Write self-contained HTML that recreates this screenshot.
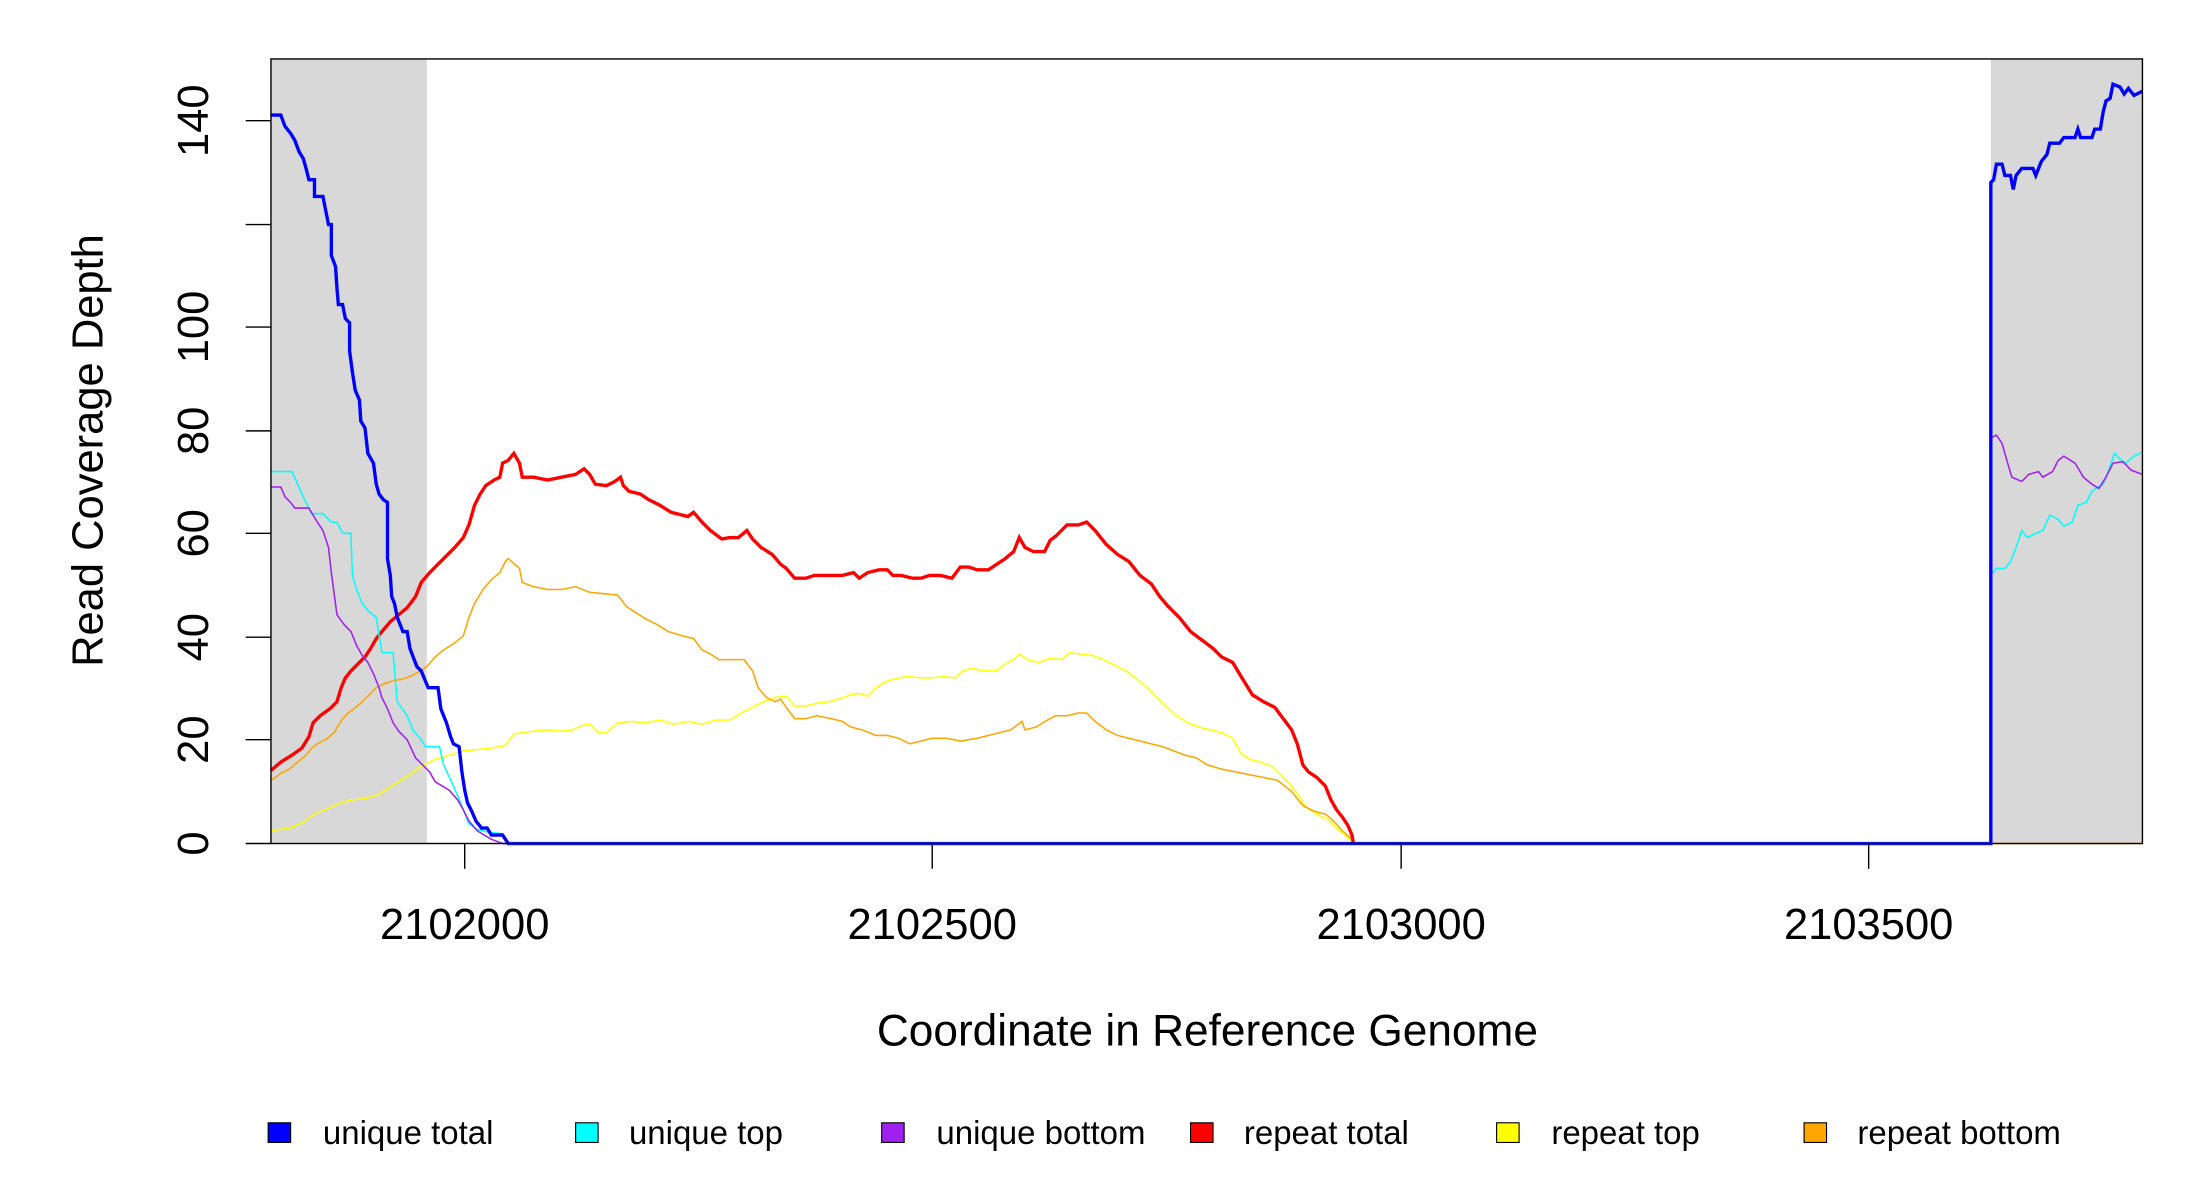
<!DOCTYPE html>
<html><head><meta charset="utf-8"><style>html,body{margin:0;padding:0;background:#fff}svg{display:block}</style></head>
<body>
<svg width="2200" height="1200" viewBox="0 0 1567 855" preserveAspectRatio="none" xmlns="http://www.w3.org/2000/svg" font-family="Liberation Sans, sans-serif">
<rect x="0" y="0" width="1567" height="855" fill="#fff"/>
<rect x="193" y="42" width="111" height="559" fill="#d8d8d8"/>
<rect x="1418" y="42" width="108" height="559" fill="#d8d8d8"/>
<g fill="none" stroke-linejoin="miter">
<polyline stroke="#ffff00" stroke-width="1.1" points="193,592 206,590 216,586 224,580 232,577 240,573 250,570 260,569 270,566 276,562 284,557 292,552 300,546 310,541 320,538 330,535 340,534 350,533 360,531 366,523 372,522 380,521 390,520 400,521 408,520 414,517 420,516 426,522 432,522 440,515 450,514 460,515 470,513 480,516 490,514 500,516 510,513 520,513 528,508 536,504 544,500 552,497 560,496 566,503 574,503 582,501 590,500 598,498 606,495 612,494 618,496 624,490 630,486 636,484 646,482 656,483 664,483 672,482 680,483 686,478 692,476 700,478 710,478 716,473 722,470 726,466 732,470 740,472 748,469 756,470 762,465 770,466 778,467 786,470 794,474 802,478 810,484 816,489 822,495 830,503 838,510 846,515 854,518 862,520 870,522 878,526 884,537 890,541 898,543 906,546 912,552 918,558 924,565 930,575 938,580 946,584 952,590 958,595 964,601"/>
<polyline stroke="#ffa500" stroke-width="1.1" points="193,556 200,551 206,548 212,543 218,538 222,533 226,530 232,527 238,522 244,512 248,508 252,505 258,500 262,496 268,490 274,487 280,485 286,484 292,482 298,479 304,475 310,468 316,463 324,458 330,453 334,440 338,430 344,420 350,413 356,408 360,400 362,398 370,405 372,415 380,418 390,420 400,420 410,418 420,422 430,423 440,424 446,432 452,436 460,441 468,445 476,450 486,453 494,455 500,463 506,466 512,470 520,470 530,470 536,478 540,490 546,497 552,500 556,498 560,504 566,512 574,512 582,510 592,512 600,514 606,518 614,520 624,524 632,524 640,526 648,530 656,528 664,526 674,526 684,528 696,526 704,524 712,522 720,520 728,514 730,520 738,518 746,513 752,510 760,510 768,508 774,508 780,514 788,520 796,524 804,526 812,528 820,530 828,532 836,535 844,538 852,540 860,545 870,548 880,550 890,552 900,554 910,556 920,564 928,574 936,578 944,580 950,585 956,592 962,597 964,601 1526,601"/>
<polyline stroke="#ff0000" stroke-width="2.4" points="193,549 200,543 208,538 215,533 220,525 223,515 228,510 235,505 240,500 243,490 246,483 250,478 256,472 260,468 264,462 268,455 272,450 278,443 284,438 290,433 296,425 300,415 306,408 312,402 318,396 324,390 330,383 334,374 338,360 342,352 346,346 352,342 356,340 358,330 362,328 366,323 370,330 372,340 380,340 390,342 400,340 410,338 416,334 420,338 424,345 432,346 438,343 442,340 444,346 448,350 456,352 462,356 470,360 478,365 486,367 490,368 494,365 500,372 506,378 514,384 520,383 526,383 532,378 536,384 542,390 550,395 556,402 560,405 566,412 574,412 580,410 590,410 600,410 608,408 612,412 618,408 626,406 632,406 636,410 642,410 650,412 656,412 662,410 670,410 678,412 684,404 690,404 696,406 704,406 710,402 716,398 722,393 726,383 730,390 736,393 744,393 748,385 752,382 760,374 768,374 774,372 780,378 788,388 796,395 804,400 812,410 820,416 826,425 832,432 840,440 848,450 856,456 864,462 870,468 878,472 884,482 892,495 900,500 908,504 914,512 920,520 924,530 928,545 932,550 938,554 944,560 948,570 952,577 956,582 960,588 963,595 964,601"/>
<polyline stroke="#00ffff" stroke-width="1.1" points="193,336 208,336 212,345 216,354 222,366 230,366 236,372 240,372 244,380 250,380 251,410 254,420 258,430 262,435 268,440 272,465 280,465 283,500 290,510 294,520 300,527 303,532 313,532 316,545 322,558 326,567 330,577 334,587 340,591 348,593 358,594 362,601 1418,601 1418,410 1422,405 1428,405 1432,400 1436,390 1440,378 1444,383 1450,380 1455,378 1460,367 1466,370 1470,375 1476,372 1480,360 1486,358 1490,350 1498,345 1502,335 1506,323 1510,327 1514,330 1520,325 1526,322"/>
<polyline stroke="#a020f0" stroke-width="1.1" points="193,347 200,347 203,354 207,358 210,362 220,362 226,372 230,378 234,390 236,408 240,438 245,445 250,450 254,460 258,467 262,472 266,480 270,490 272,497 276,505 280,515 284,521 290,527 296,540 300,544 306,550 310,557 320,563 326,570 330,577 334,585 340,592 350,598 358,601 1418,601 1418,312 1422,310 1426,316 1430,330 1433,340 1440,343 1445,338 1452,336 1455,340 1462,336 1466,328 1470,325 1478,330 1484,340 1490,345 1495,348 1500,340 1505,330 1512,329 1518,335 1526,338"/>
<polyline stroke="#0000ff" stroke-width="2.4" points="193,82 200,82 203,90 207,95 210,100 213,108 216,113 218,120 220,128 224,128 224,140 230,140 232,150 234,160 236,160 236,182 239,190 240,205 241,217 244,217 246,227 249,230 249,250 251,265 253,278 256,285 257,300 260,305 262,323 266,330 268,345 270,352 273,356 276,358 276,398 278,410 279,425 281,430 283,440 287,450 290,450 292,462 295,470 297,475 300,478 305,490 312,490 314,505 318,515 321,525 323,530 327,532 329,550 331,563 333,572 336,578 339,585 343,590 347,590 350,595 358,595 362,601 1418,601 1418,130 1420,128 1422,117 1426,117 1428,125 1432,125 1434,135 1436,125 1440,120 1448,120 1450,125 1454,115 1458,110 1460,102 1467,102 1470,98 1478,98 1480,92 1482,98 1490,98 1492,92 1496,92 1498,80 1500,72 1503,70 1505,60 1510,62 1513,67 1516,63 1520,68 1526,65"/>
<line x1="362" y1="601" x2="1418" y2="601" stroke="#5050ff" stroke-width="1.5"/>
</g>
<rect x="193" y="42" width="1333" height="559" fill="none" stroke="#000" stroke-width="1"/>
<g stroke="#000" stroke-width="1">
<line x1="175" y1="601" x2="193" y2="601"/><line x1="175" y1="527" x2="193" y2="527"/><line x1="175" y1="454" x2="193" y2="454"/><line x1="175" y1="380" x2="193" y2="380"/><line x1="175" y1="307" x2="193" y2="307"/><line x1="175" y1="233" x2="193" y2="233"/><line x1="175" y1="160" x2="193" y2="160"/><line x1="175" y1="86" x2="193" y2="86"/>
<line x1="331" y1="601" x2="331" y2="619"/><line x1="664" y1="601" x2="664" y2="619"/><line x1="998" y1="601" x2="998" y2="619"/><line x1="1331" y1="601" x2="1331" y2="619"/>
</g>
<g font-size="31" fill="#000" text-anchor="middle">
<text transform="translate(148,601) rotate(-90)">0</text>
<text transform="translate(148,527) rotate(-90)">20</text>
<text transform="translate(148,454) rotate(-90)">40</text>
<text transform="translate(148,380) rotate(-90)">60</text>
<text transform="translate(148,307) rotate(-90)">80</text>
<text transform="translate(148,233) rotate(-90)">100</text>
<text transform="translate(148,86) rotate(-90)">140</text>
<text x="331" y="669">2102000</text>
<text x="664" y="669">2102500</text>
<text x="998" y="669">2103000</text>
<text x="1331" y="669">2103500</text>
<text x="860" y="745" font-size="31.5">Coordinate in Reference Genome</text>
<text transform="translate(73,321) rotate(-90)">Read Coverage Depth</text>
</g>
<g stroke="#000" stroke-width="0.8">
<rect x="191" y="800" width="16" height="14" fill="#0000ff"/>
<rect x="410" y="800" width="16" height="14" fill="#00ffff"/>
<rect x="628" y="800" width="16" height="14" fill="#a020f0"/>
<rect x="848" y="800" width="16" height="14" fill="#ff0000"/>
<rect x="1066" y="800" width="16" height="14" fill="#ffff00"/>
<rect x="1285" y="800" width="16" height="14" fill="#ffa500"/>
</g>
<g font-size="23.5" fill="#000">
<text x="230" y="815">unique total</text>
<text x="448" y="815">unique top</text>
<text x="667" y="815">unique bottom</text>
<text x="886" y="815">repeat total</text>
<text x="1105" y="815">repeat top</text>
<text x="1323" y="815">repeat bottom</text>
</g>
</svg>
</body></html>
